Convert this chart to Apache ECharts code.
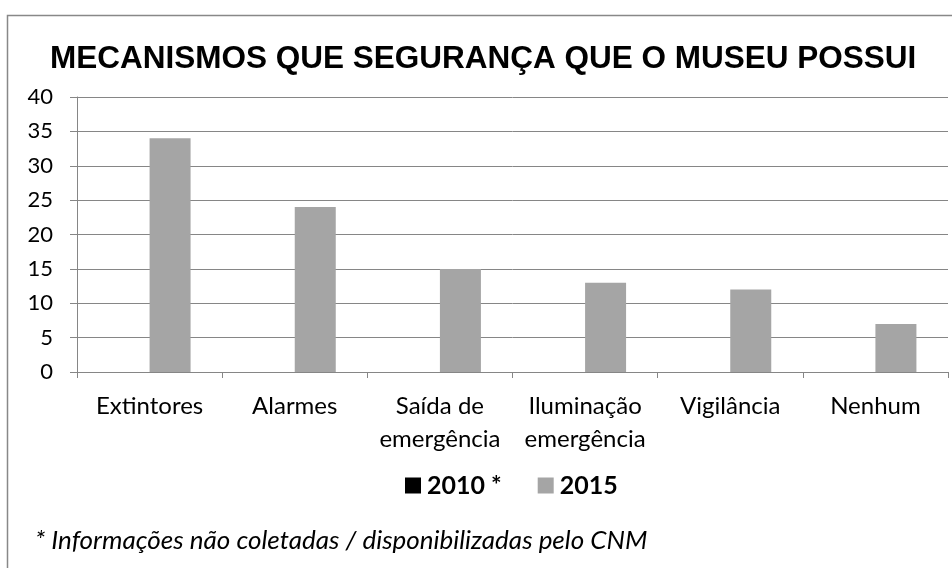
<!DOCTYPE html>
<html><head><meta charset="utf-8">
<script src="https://cdn.jsdelivr.net/npm/echarts@6/dist/echarts.min.js"></script>
<style>html,body{margin:0;padding:0;background:#fff}#c{width:952px;height:568px}</style>
</head><body><div id="c"></div>
<script>
const categories = ['Extintores','Alarmes','Saída de\nemergência','Iluminação\nemergência','Vigilância','Nenhum'];
const values2010 = [null,null,null,null,null,null];
const values2015 = [34,24,15,13,12,7];
const yTicks = {min:0,max:40,interval:5};
const titleText = 'MECANISMOS QUE SEGURANÇA QUE O MUSEU POSSUI';
const footnote = '* Informações não coletadas / disponibilizadas pelo CNM';

const chart = echarts.init(document.getElementById('c'), null, {renderer:'canvas'});
const axisColor = '#868686';
const txtFont = 'Lato, "Open Sans", sans-serif';
chart.setOption({
  animation:false,
  title:{text:titleText,left:45,top:38,textStyle:{fontFamily:'"Liberation Sans", Arial, sans-serif',fontWeight:'bold',fontSize:31.5,color:'#000'}},
  grid:{left:77,right:4,top:97,bottom:196,containLabel:false},
  legend:{top:468,left:400,itemWidth:16,itemHeight:16,itemGap:36,icon:'rect',
    textStyle:{fontFamily:txtFont,fontWeight:'bold',fontSize:25,color:'#000',padding:[0,0,0,1]},
    data:['2010 *','2015']},
  xAxis:{type:'category',data:categories,
    axisLine:{lineStyle:{color:axisColor,width:1}},
    axisTick:{show:true,length:6,lineStyle:{color:axisColor}},
    axisLabel:{fontFamily:txtFont,fontSize:24,color:'#000',margin:18,lineHeight:33,interval:0}},
  yAxis:{type:'value',min:yTicks.min,max:yTicks.max,interval:yTicks.interval,
    axisLine:{show:true,lineStyle:{color:axisColor}},
    axisTick:{show:true,length:7,lineStyle:{color:axisColor}},
    splitLine:{lineStyle:{color:axisColor,width:1}},
    axisLabel:{fontFamily:txtFont,fontSize:22,color:'#000',margin:24}},
  series:[
    {name:'2010 *',type:'bar',data:values2010,barWidth:41,barGap:'0%',itemStyle:{color:'#000'}},
    {name:'2015',type:'bar',data:values2015,barWidth:41,barGap:'0%',itemStyle:{color:'#a5a5a5'}}
  ],
  graphic:[
    {type:'rect',shape:{x:7.5,y:15.5,width:1000,height:700},style:{fill:null,stroke:'#888',lineWidth:1.5},silent:true},
    {type:'text',left:35,top:528,style:{text:footnote,fontFamily:txtFont,fontStyle:'italic',fontSize:26,fill:'#000'}}
  ]
});
</script></body></html>
